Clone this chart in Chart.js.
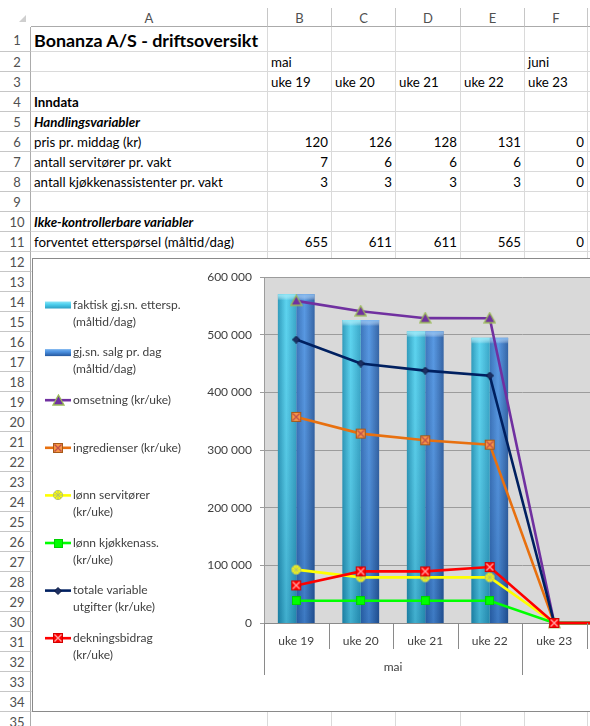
<!DOCTYPE html>
<html>
<head>
<meta charset="utf-8">
<title>Bonanza A/S - driftsoversikt</title>
<script src="https://cdn.jsdelivr.net/npm/chart.js@4.4.1/dist/chart.umd.min.js"></script>
<style>
  html, body { margin: 0; padding: 0; width: 590px; height: 726px; overflow: hidden; background: #fff; }
  body { position: relative; font-family: Lato, 'Open Sans', sans-serif; color: #000; }
  .cell {
    position: absolute; box-sizing: border-box;
    border-right: 1px solid #dadada; border-bottom: 1px solid #dadada;
    white-space: nowrap; font-size: 13.3px; padding: 0 3px; overflow: visible;
  }
  .hdr { color: #505050; text-align: center; border-color: #c6c6c6; font-size: 13px; padding: 0; }
  .num { text-align: right; }
  .b { font-weight: bold; }
  .bi { font-weight: bold; font-style: italic; }
  .title { font-weight: bold; font-size: 17.9px; }
  #corner { position: absolute; left: 19px; top: 15px; width: 0; height: 0;
    border-left: 7px solid transparent; border-bottom: 7px solid #cfcfcf; }
  #chartbox {
    position: absolute; left: 32px; top: 258px; width: 800px; height: 454px;
    box-sizing: border-box; border: 1px solid #8a8a8a; background: #fff;
  }
  #chartbox canvas { position: absolute; left: 0; top: 0; }
</style>
</head>
<body>
<div id="sheet"></div>
<div id="corner"></div>
<div id="chartbox"><canvas id="chart" width="767" height="452"></canvas></div>

<script>
// ---- spreadsheet data ----
const sheetMonths = ['mai', '', '', '', 'juni'];
const sheetWeeks = ['uke 19', 'uke 20', 'uke 21', 'uke 22', 'uke 23'];
const prisPrMiddag = [120, 126, 128, 131, 0];
const antallServitorer = [7, 6, 6, 6, 0];
const antallKjokkenass = [3, 3, 3, 3, 0];
const forventetEttersporsel = [655, 611, 611, 565, 0];

// ---- chart data ----
const weeks = ['uke 19', 'uke 20', 'uke 21', 'uke 22', 'uke 23', 'uke 24', 'uke 25', 'uke 26'];
const months = ['mai', 'juni'];
const monthSpans = [4, 4];
const faktiskEttersporsel = [665, 613, 590, 577, 0, 0, 0, 0];
const salgPrDag = [665, 613, 590, 577, 0, 0, 0, 0];
const omsetning = [558600, 540700, 528600, 528500, 0, 0, 0, 0];
const ingredienser = [357400, 328400, 316800, 309300, 0, 0, 0, 0];
const lonnServitorer = [92500, 79200, 79200, 79200, 0, 0, 0, 0];
const lonnKjokkenass = [38700, 38700, 38700, 38700, 0, 0, 0, 0];
const totaleVariable = [491500, 450000, 437700, 429000, 0, 0, 0, 0];
const dekningsbidrag = [65200, 89500, 89500, 97100, 0, 0, 0, 0];
const yTicks = [0, 100000, 200000, 300000, 400000, 500000, 600000];

// ---- build the sheet ----
(function buildSheet() {
  const sheet = document.getElementById('sheet');
  const colLefts = [0, 31, 268, 332, 396, 461, 525, 588, 652];
  const colNames = ['', 'A', 'B', 'C', 'D', 'E', 'F', 'G'];
  const rowTops = [8, 27, 52];
  for (let r = 3; r <= 36; r++) rowTops.push(52 + (r - 2) * 20);

  const content = {};
  const put = (r, c, t, cls) => { content[r + ':' + c] = { t, cls }; };
  put(1, 1, 'Bonanza A/S - driftsoversikt', 'title');
  put(4, 1, 'Inndata', 'b');
  put(5, 1, 'Handlingsvariabler', 'bi');
  put(6, 1, 'pris pr. middag (kr)', '');
  put(7, 1, 'antall servitører pr. vakt', '');
  put(8, 1, 'antall kjøkkenassistenter pr. vakt', '');
  put(10, 1, 'Ikke-kontrollerbare variabler', 'bi');
  put(11, 1, 'forventet etterspørsel (måltid/dag)', '');
  sheetWeeks.forEach((w, i) => {
    if (sheetMonths[i]) put(2, i + 2, sheetMonths[i], '');
    put(3, i + 2, w, '');
    put(6, i + 2, prisPrMiddag[i], 'num');
    put(7, i + 2, antallServitorer[i], 'num');
    put(8, i + 2, antallKjokkenass[i], 'num');
    put(11, i + 2, forventetEttersporsel[i], 'num');
  });

  const mk = (x, y, w, h, cls, text) => {
    const d = document.createElement('div');
    d.className = 'cell ' + cls;
    d.style.left = x + 'px'; d.style.top = y + 'px';
    d.style.width = w + 'px'; d.style.height = h + 'px';
    d.style.lineHeight = (h + 1) + 'px';
    if (text !== undefined) d.textContent = text;
    sheet.appendChild(d);
    return d;
  };

  // column header row
  for (let c = 1; c < colNames.length; c++) {
    const d = mk(colLefts[c], rowTops[0], colLefts[c + 1] - colLefts[c], rowTops[1] - rowTops[0], 'hdr', colNames[c]);
    d.style.borderBottom = '1px solid #ababab';
  }
  // rows
  for (let r = 1; r <= 35; r++) {
    const h = rowTops[r + 1] - rowTops[r];
    const rh = mk(0, rowTops[r], 31, h, 'hdr', String(r));
    rh.style.borderRight = '1px solid #ababab';
    rh.style.paddingLeft = '4px';
    for (let c = 1; c < colNames.length; c++) {
      const item = content[r + ':' + c];
      mk(colLefts[c], rowTops[r], colLefts[c + 1] - colLefts[c], h,
        item ? item.cls : '', item ? String(item.t) : undefined);
    }
  }
})();

// ---- chart ----
const TEXT = '#404040';
Chart.defaults.font.family = 'Lato, "Open Sans", sans-serif';
Chart.defaults.font.size = 12;
Chart.defaults.color = TEXT;

function marker(size, draw) {
  const c = document.createElement('canvas');
  c.width = size; c.height = size;
  draw(c.getContext('2d'), size);
  return c;
}
function xBox(fill, edge, cross) {
  return marker(12, (g) => {
    g.fillStyle = fill; g.fillRect(1.5, 1.5, 9, 9);
    g.strokeStyle = edge; g.lineWidth = 1; g.strokeRect(1.5, 1.5, 9, 9);
    g.strokeStyle = cross; g.lineWidth = 1.4;
    g.beginPath(); g.moveTo(2.5, 2.5); g.lineTo(9.5, 9.5); g.moveTo(9.5, 2.5); g.lineTo(2.5, 9.5); g.stroke();
  });
}
const mTriangle = marker(13, (g) => {
  g.beginPath(); g.moveTo(6.5, 1); g.lineTo(12, 11); g.lineTo(1, 11); g.closePath();
  g.fillStyle = '#7030a0'; g.fill();
  g.strokeStyle = '#9bbb59'; g.lineWidth = 1.3; g.stroke();
});
const mOrange = xBox('#f79646', '#a85a17', '#c0504d');
const mRed = xBox('#ff0000', '#d40000', '#ffa0a0');
const mStar = marker(12, (g) => {
  g.beginPath(); g.arc(6, 6, 4.6, 0, Math.PI * 2);
  g.fillStyle = '#ffff00'; g.fill();
  g.strokeStyle = '#b5c46a'; g.lineWidth = 1; g.stroke();
  g.beginPath();
  g.moveTo(3, 3); g.lineTo(9, 9); g.moveTo(9, 3); g.lineTo(3, 9);
  g.moveTo(6, 2); g.lineTo(6, 10); g.moveTo(2, 6); g.lineTo(10, 6);
  g.stroke();
});
const mSquare = marker(9, (g) => {
  g.fillStyle = '#00ff00'; g.fillRect(0.5, 0.5, 8, 8);
  g.strokeStyle = '#00d000'; g.lineWidth = 1; g.strokeRect(0.5, 0.5, 8, 8);
});
const mDot = marker(8, (g) => {
  g.beginPath(); g.moveTo(4, 0.5); g.lineTo(7.5, 4); g.lineTo(4, 7.5); g.lineTo(0.5, 4); g.closePath();
  g.fillStyle = '#1c2f63'; g.fill();
  g.strokeStyle = '#0b1840'; g.lineWidth = 1; g.stroke();
});

function lineSet(label, data, color, style, order) {
  return {
    type: 'line', label, data, order,
    borderColor: color, backgroundColor: color, borderWidth: 2.6,
    pointStyle: style, pointRadius: 4, tension: 0, clip: false, yAxisID: 'y'
  };
}

const datasets = [
  { type: 'bar', label: 'faktisk gj.sn. ettersp.\n(måltid/dag)', data: faktiskEttersporsel, order: 7,
    yAxisID: 'y2', backgroundColor: '#34b8dc', shade: ['#1f93b6', '#4fd0ee', '#2a9fc3', '#8be6f7'],
    barPercentage: 1, categoryPercentage: 0.57 },
  { type: 'bar', label: 'gj.sn. salg pr. dag\n(måltid/dag)', data: salgPrDag, order: 8,
    yAxisID: 'y2', backgroundColor: '#3c82d4', shade: ['#2d69b5', '#4a90e0', '#25589e', '#78b2ee'],
    barPercentage: 1, categoryPercentage: 0.57 },
  lineSet('omsetning (kr/uke)', omsetning, '#7030a0', mTriangle, 6),
  lineSet('ingredienser (kr/uke)', ingredienser, '#e8700f', mOrange, 5),
  lineSet('lønn servitører\n(kr/uke)', lonnServitorer, '#ffff00', mStar, 4),
  lineSet('lønn kjøkkenass.\n(kr/uke)', lonnKjokkenass, '#00ff00', mSquare, 3),
  lineSet('totale variable\nutgifter (kr/uke)', totaleVariable, '#002060', mDot, 2),
  lineSet('dekningsbidrag\n(kr/uke)', dekningsbidrag, '#ff0000', mRed, 1)
];

function fmt(v) { return String(v).replace(/\B(?=(\d{3})+(?!\d))/g, ' '); }

// shaded cylinder-like bars
const barShading = {
  id: 'barShading',
  beforeDatasetDraw(chart, args) {
    const ds = chart.data.datasets[args.index];
    if (ds.type !== 'bar') return;
    const ctx = chart.ctx;
    const [edge, mid, dark, cap] = ds.shade;
    ctx.save();
    args.meta.data.forEach((bar) => {
      const { x, y, base, width } = bar.getProps(['x', 'y', 'base', 'width'], true);
      const h = base - y;
      if (h < 1) return;
      const l = x - width / 2;
      const g = ctx.createLinearGradient(l, 0, l + width, 0);
      g.addColorStop(0, edge); g.addColorStop(0.45, mid); g.addColorStop(1, dark);
      ctx.fillStyle = g;
      ctx.fillRect(l, y, width, h);
      const v = ctx.createLinearGradient(0, y, 0, base);
      v.addColorStop(0, 'rgba(255,255,255,0.08)'); v.addColorStop(1, 'rgba(0,20,60,0.18)');
      ctx.fillStyle = v;
      ctx.fillRect(l, y, width, h);
      const cg = ctx.createLinearGradient(0, y, 0, y + 6);
      cg.addColorStop(0, cap); cg.addColorStop(1, 'rgba(255,255,255,0)');
      ctx.fillStyle = cg;
      ctx.fillRect(l, y, width, 6);
    });
    ctx.restore();
    return false;
  }
};

const plotBg = {
  id: 'plotBg',
  beforeDraw(chart) {
    const a = chart.chartArea;
    chart.ctx.save();
    chart.ctx.fillStyle = '#d9d9d9';
    chart.ctx.fillRect(a.left, a.top, a.right - a.left, a.bottom - a.top);
    chart.ctx.restore();
  }
};

// two-level category axis (uke / måned) and left-side legend
const extras = {
  id: 'extras',
  afterDraw(chart) {
    const ctx = chart.ctx;
    const xs = chart.scales.x;
    const bottom = chart.chartArea.bottom;
    const catW = (xs.right - xs.left) / weeks.length;
    const edgeOf = (i) => xs.getPixelForValue(i) - catW / 2;
    ctx.save();
    ctx.strokeStyle = '#8a8a8a';
    ctx.lineWidth = 1;
    const groupEdges = [0];
    monthSpans.forEach((s) => groupEdges.push(groupEdges[groupEdges.length - 1] + s));
    for (let i = 0; i <= weeks.length; i++) {
      const px = Math.round(edgeOf(i)) + 0.5;
      const long = groupEdges.includes(i);
      ctx.beginPath();
      ctx.moveTo(px, bottom);
      ctx.lineTo(px, bottom + (long ? 52 : 26));
      ctx.stroke();
    }
    ctx.fillStyle = TEXT;
    ctx.font = '12px Lato, "Open Sans", sans-serif';
    ctx.textAlign = 'center';
    ctx.textBaseline = 'middle';
    months.forEach((m, k) => {
      const cx = (edgeOf(groupEdges[k]) + edgeOf(groupEdges[k + 1])) / 2;
      ctx.fillText(m, cx, bottom + 44);
    });

    // legend
    ctx.textAlign = 'left';
    chart.data.datasets.forEach((ds, i) => {
      const y = 46 + i * 47.6;
      if (ds.type === 'bar') {
        const g = ctx.createLinearGradient(0, y - 3.5, 0, y + 3.5);
        g.addColorStop(0, ds.shade[3]); g.addColorStop(0.4, ds.shade[1]); g.addColorStop(1, ds.shade[2]);
        ctx.fillStyle = g;
        ctx.fillRect(12, y - 3.5, 26, 7);
      } else {
        ctx.strokeStyle = ds.borderColor;
        ctx.lineWidth = 2.6;
        ctx.beginPath(); ctx.moveTo(12, y); ctx.lineTo(38, y); ctx.stroke();
        const m = ds.pointStyle;
        ctx.drawImage(m, Math.round(25 - m.width / 2), Math.round(y - m.height / 2));
      }
      ctx.fillStyle = TEXT;
      ds.label.split('\n').forEach((line, j) => ctx.fillText(line, 40, y + j * 17));
    });
    ctx.restore();
  }
};

new Chart(document.getElementById('chart'), {
  data: { labels: weeks, datasets },
  options: {
    responsive: false,
    animation: false,
    events: [],
    layout: { padding: { left: 0, top: 18, right: 20, bottom: 0 } },
    plugins: { legend: { display: false }, tooltip: { enabled: false } },
    scales: {
      x: {
        type: 'category',
        offset: true,
        grid: { display: false, drawTicks: false },
        border: { display: true, color: '#8a8a8a' },
        ticks: { color: TEXT, padding: 11, maxRotation: 0, autoSkip: false },
        afterFit: (s) => { s.height = 88; }
      },
      y: {
        min: 0, max: 600000,
        afterBuildTicks: (s) => { s.ticks = yTicks.map((v) => ({ value: v })); },
        grid: { color: '#9c9c9c', tickLength: 4 },
        border: { display: true, color: '#9c9c9c' },
        ticks: { color: TEXT, padding: 8, callback: (v) => fmt(v) },
        afterFit: (s) => { s.width = 231; }
      },
      y2: { display: false, min: 0, max: 700 }
    }
  },
  plugins: [plotBg, barShading, extras]
});
</script>
</body>
</html>
